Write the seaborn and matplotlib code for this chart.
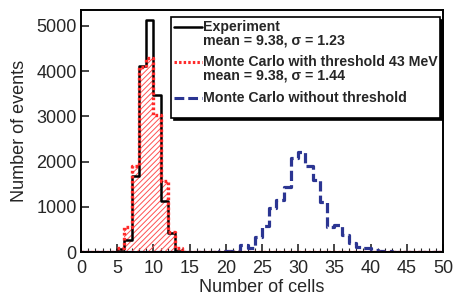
import numpy as np
import pandas as pd
import matplotlib
matplotlib.use('Agg')
import matplotlib.pyplot as plt
from matplotlib.lines import Line2D
from matplotlib.ticker import MultipleLocator
import seaborn as sns

# bin edges 0..50, width 1
edges = list(range(0, 51))
centers = [e + 0.5 for e in edges[:-1]]

# counts per bin
experiment = [0, 0, 0, 0, 0, 60, 265, 1690, 4115, 5120,
              3460, 1130, 410, 30, 0, 0, 0, 0, 0, 0,
              0, 0, 0, 0, 0, 0, 0, 0, 0, 0,
              0, 0, 0, 0, 0, 0, 0, 0, 0, 0,
              0, 0, 0, 0, 0, 0, 0, 0, 0, 0]
mc_threshold = [0, 0, 0, 0, 0, 80, 560, 1910, 4100, 4285,
                3030, 1570, 435, 80, 0, 0, 0, 0, 0, 0,
                0, 0, 0, 0, 0, 0, 0, 0, 0, 0,
                0, 0, 0, 0, 0, 0, 0, 0, 0, 0,
                0, 0, 0, 0, 0, 0, 0, 0, 0, 0]
mc_no_threshold = [0, 0, 0, 0, 0, 0, 0, 0, 0, 0,
                   0, 0, 0, 0, 0, 0, 0, 0, 0, 15,
                   20, 30, 155, 80, 340, 575, 965, 1150, 1445, 2070,
                   2220, 1900, 1590, 1110, 545, 600, 375, 205, 117, 80,
                   40, 30, 15, 10, 0, 0, 0, 0, 0, 0]

labels = ["Experiment", "mean = 9.38, \u03c3 = 1.23",
          "Monte Carlo with threshold 43 MeV", "mean = 9.38, \u03c3 = 1.44",
          "Monte Carlo without threshold"]

df = pd.DataFrame({'cells': centers, 'exp': experiment,
                   'mc_thr': mc_threshold, 'mc_nothr': mc_no_threshold})

sns.set_style("ticks")
plt.rcParams['font.family'] = ['Liberation Sans', 'DejaVu Sans']
plt.rcParams['hatch.linewidth'] = 0.7

red = '#ff2a2a'
navy = '#2b3592'
red_dots = (0, (0.8, 0.7))
navy_dash = (0, (3.2, 1.3))

fig = plt.figure(figsize=(4.54, 2.97), dpi=100)
ax = fig.add_axes([0.1784, 0.1515, 0.7974, 0.8148])

# hatched fill of the MC-with-threshold histogram
sns.histplot(data=df, x='cells', weights='mc_thr', bins=edges, element='step', fill=True,
             color=red, hatch='//////', linewidth=0, ax=ax)
ax.collections[-1].set_facecolor('none')
ax.collections[-1].set_edgecolor('#ff5050')
sns.histplot(data=df, x='cells', weights='mc_nothr', bins=edges, element='step', fill=False,
             color=navy, linestyle=navy_dash, linewidth=2.3, ax=ax)
sns.histplot(data=df, x='cells', weights='exp', bins=edges, element='step', fill=False,
             color='black', linewidth=1.8, ax=ax)
sns.histplot(data=df, x='cells', weights='mc_thr', bins=edges, element='step', fill=False,
             color=red, linestyle=red_dots, linewidth=2.4, ax=ax)

ax.set_xlim(0, 50)
ax.set_ylim(0, 5350)
ax.xaxis.set_major_locator(MultipleLocator(5))
ax.xaxis.set_minor_locator(MultipleLocator(1))
ax.yaxis.set_major_locator(MultipleLocator(1000))
ax.tick_params(axis='both', which='major', direction='in', length=6, width=1.2,
               labelsize=13, top=False, right=False)
ax.tick_params(axis='x', which='major', pad=6)
ax.tick_params(axis='y', which='major', pad=3)
ax.tick_params(axis='x', which='minor', direction='in', length=3, width=0.8)
for s in ax.spines.values():
    s.set_linewidth(1.4)
    s.set_color('black')

ax.set_xlabel("Number of cells", fontsize=13, labelpad=1)
ax.set_ylabel("Number of events", fontsize=13, labelpad=6)

# legend: blank entries carry the second lines and the gaps between groups
blank = Line2D([], [], color='none')
handles = [Line2D([], [], color='black', linewidth=1.8), blank, blank,
           Line2D([], [], color=red, linestyle=red_dots, linewidth=2.2), blank, blank,
           Line2D([], [], color=navy, linestyle=navy_dash, linewidth=2.2), blank]
leg_labels = [labels[0], labels[1], "", labels[2], labels[3], "", labels[4], ""]
leg = ax.legend(handles, leg_labels, loc='upper right', bbox_to_anchor=(0.992, 0.971),
                borderaxespad=0, fancybox=False, framealpha=1, edgecolor='black',
                shadow={'color': 'black', 'alpha': 1}, handlelength=2.0, handleheight=0.4,
                handletextpad=0.05, labelspacing=-0.05, borderpad=0.2,
                prop={'weight': 'bold', 'size': 10.2})
leg.get_frame().set_linewidth(1.2)
texts = leg.get_texts()
texts[2].set_fontsize(4)
texts[5].set_fontsize(4)
texts[7].set_fontsize(6)

fig.savefig('out.png', dpi=100)
